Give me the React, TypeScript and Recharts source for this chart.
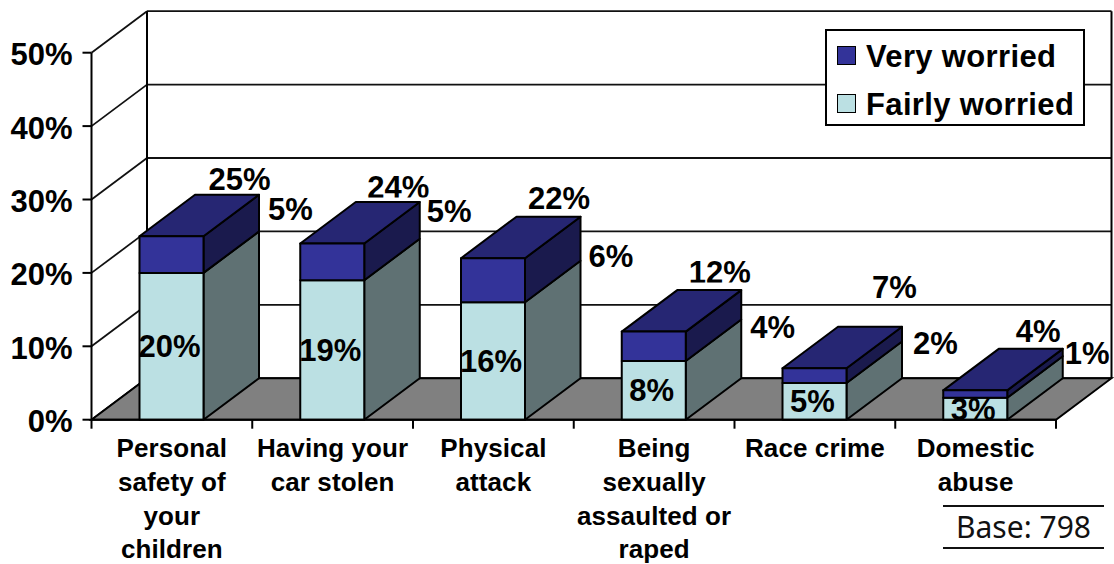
import React from 'react';
import {
  BarChart,
  Bar,
  XAxis,
  YAxis,
  CartesianGrid,
  LabelList,
  Legend,
  ReferenceArea
} from 'recharts';

const categories = [
  'Personal\nsafety of\nyour\nchildren',
  'Having your\ncar stolen',
  'Physical\nattack',
  'Being\nsexually\nassaulted or\nraped',
  'Race crime',
  'Domestic\nabuse'
];
const fairlyWorried = [20, 19, 16, 8, 5, 3];
const veryWorried = [5, 5, 6, 4, 2, 1];
const totals = [25, 24, 22, 12, 7, 4];
const yTicks = [0, 10, 20, 30, 40, 50];

const data = categories.map((name, i) => ({
  name,
  fairly: fairlyWorried[i],
  very: veryWorried[i],
  total: totals[i]
}));

const FONT = '"Liberation Sans", Arial, sans-serif';
const LABEL_SIZE = 31;
const INK = '#000';

// Depth of the fake 3D extrusion
const DX = 55.5;
const DY = -41.5;

const AXIS_H = 144.3;
const AXIS_W = 91.5;
const MARGIN = { top: 52.7, right: 58, bottom: 0, left: 0 };
const BAND = (1114 - MARGIN.right - AXIS_W) / categories.length;

const LIGHT = { front: '#bbe0e3', side: '#5f7173', top: '#8ea8aa' };
const DARK = { front: '#333399', side: '#1a1a4d', top: '#262673' };

// Label nudges, per category, away from the bar they belong to
const totalNudge = [
  [68, -46],
  [66, -46],
  [66, -49],
  [66, -49],
  [80, -70],
  [63, -48]
];
const veryNudge = [
  [119, -46],
  [117, -51],
  [118, -24],
  [119, -19],
  [121, -33],
  [112, -41]
];

const boxShape = (colors: typeof LIGHT, withTop: boolean) => (props: any) => {
  const { x, y, width, height } = props;
  const r = x + width;
  const b = y + height;
  return (
    <g stroke={INK} strokeWidth={2} strokeLinejoin="round">
      <polygon
        points={`${r},${y} ${r + DX},${y + DY} ${r + DX},${b + DY} ${r},${b}`}
        fill={colors.side}
      />
      {withTop && (
        <polygon
          points={`${x},${y} ${x + DX},${y + DY} ${r + DX},${y + DY} ${r},${y}`}
          fill={colors.top}
        />
      )}
      <rect x={x} y={y} width={width} height={height} fill={colors.front} />
    </g>
  );
};

// Floor plus the outline of the back wall
const WallFrame = (props: any) => {
  const { x, y, width, height } = props;
  const r = x + width;
  const b = y + height;
  return (
    <g fill="none" stroke={INK} strokeWidth={2}>
      <polygon
        points={`${x},${b} ${x + DX},${b + DY} ${r + DX},${b + DY} ${r},${b}`}
        fill="#808080"
      />
      <line x1={x + DX} y1={y + DY} x2={x + DX} y2={b + DY} />
      <line x1={r + DX} y1={y + DY} x2={r + DX} y2={b + DY} />
    </g>
  );
};

const wallGridLine = (props: any) => {
  const { x1, y1, x2, index } = props;
  return (
    <g key={`wall-${index}`} stroke="#111" strokeWidth={1.8}>
      <line x1={x1} y1={y1} x2={x1 + DX} y2={y1 + DY} />
      <line x1={x1 + DX} y1={y1 + DY} x2={x2 + DX} y2={y1 + DY} />
    </g>
  );
};

const CategoryTick = (props: any) => {
  const { x, y, payload, index } = props;
  const lines = String(payload.value).split('\n');
  const tickMark = (tx: number) => (
    <line x1={tx} y1={y} x2={tx} y2={y + 9} stroke={INK} strokeWidth={2} />
  );
  return (
    <g>
      {tickMark(x - BAND / 2)}
      {index === categories.length - 1 && tickMark(x + BAND / 2)}
      <text
        x={x}
        y={y}
        textAnchor="middle"
        fontFamily={FONT}
        fontWeight="bold"
        fontSize={26}
        letterSpacing={0.1}
        fill={INK}
      >
        {lines.map((line, i) => (
          <tspan key={i} x={x} y={457.3 + i * 33.6}>
            {line}
          </tspan>
        ))}
      </text>
    </g>
  );
};

const labelBox = (props: any) => (props.viewBox && props.viewBox.width !== undefined ? props.viewBox : props);

const BoldLabel = ({ x, y, clipId, children }: any) => (
  <text
    x={x}
    y={y}
    textAnchor="middle"
    fontFamily={FONT}
    fontWeight="bold"
    fontSize={LABEL_SIZE}
    fill={INK}
    clipPath={clipId ? `url(#${clipId})` : undefined}
  >
    {children}
  </text>
);

// Totals float above the box and lose everything under their baseline
const totalLabel = (props: any) => {
  const { index, value } = props;
  const box = labelBox(props);
  const cx = box.x + box.width / 2 + totalNudge[index][0];
  const base = box.y + totalNudge[index][1];
  const id = `total-clip-${index}`;
  return (
    <g>
      <clipPath id={id}>
        <rect x={cx - 80} y={base - 60} width={160} height={60} />
      </clipPath>
      <BoldLabel x={cx} y={base} clipId={id}>{`${value}%`}</BoldLabel>
    </g>
  );
};

const veryLabel = (props: any) => {
  const { index, value } = props;
  const box = labelBox(props);
  const cx = box.x + box.width / 2 + veryNudge[index][0];
  const cy = box.y + box.height / 2 + veryNudge[index][1];
  return <BoldLabel x={cx} y={cy + 11}>{`${value}%`}</BoldLabel>;
};

// Sits on the front face and is cut off at its edges
const fairlyLabel = (props: any) => {
  const { index, value } = props;
  const box = labelBox(props);
  const cx = box.x + box.width / 2 - 2;
  const cy = box.y + box.height / 2;
  const id = `fairly-clip-${index}`;
  return (
    <g>
      <clipPath id={id}>
        <rect x={cx - 60} y={box.y} width={120} height={box.height} />
      </clipPath>
      <BoldLabel x={cx} y={cy + 11} clipId={id}>{`${value}%`}</BoldLabel>
    </g>
  );
};

const LegendBox = () => (
  <div
    style={{
      width: 256,
      height: 93,
      border: '2px solid #000',
      background: '#fff',
      boxSizing: 'content-box',
      fontFamily: FONT,
      fontWeight: 'bold',
      fontSize: 31,
      letterSpacing: 0.35,
      color: INK,
      position: 'relative'
    }}
  >
    {[
      { label: 'Very worried', color: DARK.front, top: 15 },
      { label: 'Fairly worried', color: LIGHT.front, top: 63 }
    ].map((item) => (
      <div key={item.label}>
        <span
          style={{
            position: 'absolute',
            left: 10,
            top: item.top,
            width: 17,
            height: 17,
            background: item.color,
            border: '1.5px solid #000'
          }}
        />
        <span
          style={{
            position: 'absolute',
            left: 39,
            top: item.top - 7,
            lineHeight: '36px',
            whiteSpace: 'nowrap'
          }}
        >
          {item.label}
        </span>
      </div>
    ))}
  </div>
);

export default function App() {
  return (
    <div style={{ position: 'absolute', left: 0, top: 0, width: 1114, height: 564, background: '#fff' }}>
      <BarChart width={1114} height={564} data={data} margin={MARGIN} barSize={64}>
        <ReferenceArea y1={0} y2={50} shape={WallFrame} />
        <CartesianGrid vertical={false} horizontal={wallGridLine} />
        <XAxis
          dataKey="name"
          interval={0}
          axisLine={{ stroke: INK, strokeWidth: 2 }}
          tickLine={false}
          tickSize={0}
          tickMargin={0}
          height={AXIS_H}
          tick={<CategoryTick />}
        />
        <YAxis
          width={AXIS_W}
          domain={[0, 50]}
          ticks={yTicks}
          interval={0}
          tickSize={9}
          tickMargin={10}
          axisLine={{ stroke: INK, strokeWidth: 2 }}
          tickLine={{ stroke: INK, strokeWidth: 2 }}
          tickFormatter={(v: number) => `${v}%`}
          tick={{ fontSize: LABEL_SIZE, fontWeight: 'bold', fontFamily: FONT, fill: INK, dy: 1.5 }}
        />
        <Legend
          layout="horizontal"
          align="center"
          verticalAlign="middle"
          content={<LegendBox />}
          wrapperStyle={{ left: 825, top: 29, width: 260, height: 97 }}
        />
        <Bar
          dataKey="fairly"
          stackId="worry"
          fill={LIGHT.front}
          shape={boxShape(LIGHT, false)}
          isAnimationActive={false}
        >
          <LabelList dataKey="fairly" content={fairlyLabel} />
        </Bar>
        <Bar
          dataKey="very"
          stackId="worry"
          fill={DARK.front}
          shape={boxShape(DARK, true)}
          isAnimationActive={false}
        >
          <LabelList dataKey="very" content={veryLabel} />
          <LabelList dataKey="total" content={totalLabel} />
        </Bar>
      </BarChart>
      <div
        style={{
          position: 'absolute',
          left: 943,
          top: 505,
          width: 161,
          height: 40,
          borderTop: '2px solid #111',
          borderBottom: '2px solid #111',
          textAlign: 'center',
          fontFamily: '"Noto Sans", sans-serif',
          fontSize: 30,
          lineHeight: '40px',
          color: '#111'
        }}
      >
        Base: 798
      </div>
    </div>
  );
}
